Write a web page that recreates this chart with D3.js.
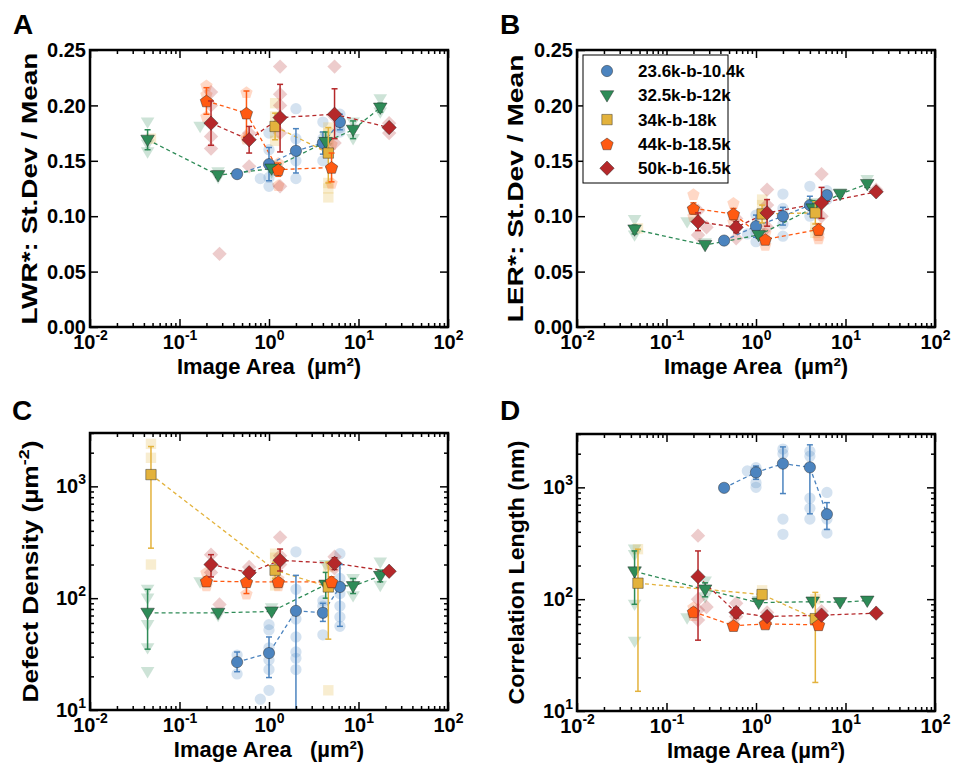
<!DOCTYPE html>
<html>
<head>
<meta charset="utf-8">
<script src="https://cdn.jsdelivr.net/npm/d3@7"></script>
<style>
  body { margin: 0; background: #fff; }
  text { font-family: "Liberation Sans", Arial, sans-serif; font-weight: bold; fill: #000; }
</style>
</head>
<body>
<div id="chart"></div>
<script>
// ---- series ----
const seriesNames = ["23.6k-b-10.4k", "32.5k-b-12k", "34k-b-18k", "44k-b-18.5k", "50k-b-16.5k"];
const seriesColors = ["#4c84bf", "#2e8b57", "#e3b23c", "#ff5a12", "#b5282a"];
const seriesShapes = ["circle", "triangleDown", "square", "pentagon", "diamond"];

// ---- A: LWR* (area, mean, errLow, errHigh) and single measurements (area, value) ----
const lwrBlue = [[0.44, 0.138, 0.137, 0.139], [1.0, 0.147, 0.132, 0.162], [2.0, 0.159, 0.139, 0.179], [4.0, 0.166, 0.156, 0.176], [6.2, 0.185, 0.178, 0.192]];
const lwrGreen = [[0.044, 0.169, 0.160, 0.178], [0.27, 0.137, 0.135, 0.139], [1.07, 0.143, 0.140, 0.146], [4.3, 0.167, 0.158, 0.176], [8.7, 0.178, 0.170, 0.186], [17.5, 0.198, 0.194, 0.202]];
const lwrYellow = [[1.17, 0.181, 0.169, 0.193], [4.6, 0.157, 0.130, 0.180]];
const lwrOrange = [[0.2, 0.204, 0.192, 0.216], [0.56, 0.193, 0.172, 0.213], [1.27, 0.142, 0.136, 0.148], [5.0, 0.144, 0.131, 0.157]];
const lwrRed = [[0.225, 0.184, 0.164, 0.204], [0.6, 0.169, 0.157, 0.181], [1.33, 0.189, 0.158, 0.219], [5.4, 0.192, 0.170, 0.215], [22, 0.180, 0.178, 0.182]];
const lwrBlueRaw = [[0.44, 0.138], [0.8, 0.134], [1.0, 0.127], [1.0, 0.135], [1.0, 0.16], [1.0, 0.175], [2.0, 0.197], [2.0, 0.17], [2.0, 0.15], [2.0, 0.134], [4.0, 0.185], [4.0, 0.17], [4.0, 0.15], [6.2, 0.192], [6.2, 0.18], [6.2, 0.176]];
const lwrGreenRaw = [[0.044, 0.185], [0.044, 0.158], [0.044, 0.165], [0.17, 0.181], [0.27, 0.14], [0.27, 0.135], [1.07, 0.146], [1.07, 0.14], [4.3, 0.172], [4.3, 0.162], [8.7, 0.185], [8.7, 0.17], [17.5, 0.206], [17.5, 0.194]];
const lwrYellowRaw = [[0.048, 0.170], [1.17, 0.202], [1.17, 0.19], [1.17, 0.175], [1.17, 0.168], [4.6, 0.18], [4.6, 0.175], [4.6, 0.165], [4.6, 0.13], [4.6, 0.125], [4.6, 0.117]];
const lwrOrangeRaw = [[0.2, 0.218], [0.2, 0.21], [0.2, 0.19], [0.56, 0.212], [0.56, 0.172], [0.56, 0.17], [1.27, 0.148], [1.27, 0.128], [5.0, 0.165], [5.0, 0.13]];
const lwrRedRaw = [[0.225, 0.212], [0.225, 0.2], [0.225, 0.172], [0.225, 0.161], [0.28, 0.066], [0.6, 0.175], [0.6, 0.145], [1.33, 0.235], [1.33, 0.21], [1.33, 0.2], [1.33, 0.175], [1.33, 0.127], [5.4, 0.235], [5.4, 0.19], [5.4, 0.166], [22, 0.184], [22, 0.175]];

// ---- B: LER* ----
const lerBlue = [[0.44, 0.078, 0.077, 0.079], [1.0, 0.091, 0.081, 0.101], [2.0, 0.100, 0.092, 0.108], [4.0, 0.110, 0.102, 0.118], [6.2, 0.119, 0.115, 0.123]];
const lerGreen = [[0.044, 0.088, 0.084, 0.092], [0.27, 0.074, 0.073, 0.075], [1.07, 0.083, 0.080, 0.086], [4.3, 0.107, 0.100, 0.114], [8.7, 0.120, 0.118, 0.122], [17.5, 0.129, 0.126, 0.132]];
const lerYellow = [[1.17, 0.102, 0.094, 0.110], [4.6, 0.103, 0.093, 0.113]];
const lerOrange = [[0.2, 0.107, 0.102, 0.112], [0.56, 0.102, 0.097, 0.107], [1.27, 0.079, 0.077, 0.081], [5.0, 0.088, 0.083, 0.093]];
const lerRed = [[0.225, 0.095, 0.087, 0.103], [0.6, 0.090, 0.085, 0.095], [1.33, 0.103, 0.091, 0.115], [5.4, 0.112, 0.098, 0.126], [22, 0.122, 0.121, 0.123]];
const lerBlueRaw = [[0.44, 0.078], [0.8, 0.084], [1.0, 0.101], [1.0, 0.085], [1.0, 0.077], [2.0, 0.12], [2.0, 0.107], [2.0, 0.093], [2.0, 0.082], [4.0, 0.127], [4.0, 0.1], [6.2, 0.123], [6.2, 0.115]];
const lerGreenRaw = [[0.044, 0.097], [0.044, 0.083], [0.17, 0.095], [0.27, 0.076], [1.07, 0.085], [4.3, 0.112], [8.7, 0.121], [17.5, 0.133]];
const lerYellowRaw = [[0.048, 0.089], [1.17, 0.115], [1.17, 0.11], [1.17, 0.095], [4.6, 0.11], [4.6, 0.09], [4.6, 0.085]];
const lerOrangeRaw = [[0.2, 0.12], [0.2, 0.1], [0.56, 0.112], [0.56, 0.095], [1.27, 0.074], [1.27, 0.085], [5.0, 0.08], [5.0, 0.083]];
const lerRedRaw = [[0.225, 0.105], [0.225, 0.083], [0.28, 0.09], [0.6, 0.098], [0.6, 0.08], [1.33, 0.124], [1.33, 0.11], [1.33, 0.09], [5.4, 0.138], [5.4, 0.1], [22, 0.124]];

// ---- C: defect density ----
const ddBlue = [[0.44, 26.8, 22, 33], [1.0, 32.3, 19.5, 45], [2.0, 77, 8, 160], [4.0, 74, 62, 90], [6.2, 126, 56, 200]];
const ddGreen = [[0.044, 74, 35, 120], [0.27, 74, 72, 76], [1.07, 76, 74, 78], [4.3, 132, 100, 170], [8.7, 128, 110, 150], [17.5, 158, 140, 178]];
const ddYellow = [[0.048, 1274, 280, 2270], [1.17, 178, 150, 210], [4.6, 126, 43, 210]];
const ddOrange = [[0.2, 142, 130, 155], [0.56, 140, 110, 165], [1.27, 140, 130, 150], [5.0, 140, 125, 155]];
const ddRed = [[0.225, 200, 155, 245], [0.6, 169, 160, 178], [1.33, 218, 175, 275], [5.4, 205, 180, 230], [22, 174, 170, 178]];
const ddBlueRaw = [[0.44, 31], [0.44, 21], [0.8, 12.5], [1.0, 58], [1.0, 52], [1.0, 36], [1.0, 28], [1.0, 23], [1.0, 15], [2.0, 260], [2.0, 120], [2.0, 65], [2.0, 45], [2.0, 33], [2.0, 29], [2.0, 23], [4.0, 95], [4.0, 85], [4.0, 47], [6.2, 250], [6.2, 150], [6.2, 110], [6.2, 85], [6.2, 68], [6.2, 56]];
const ddGreenRaw = [[0.044, 120], [0.044, 100], [0.044, 58], [0.044, 36], [0.044, 22], [0.17, 140], [0.27, 70], [1.07, 82], [4.3, 200], [8.7, 150], [8.7, 105], [17.5, 210], [17.5, 130]];
const ddYellowRaw = [[0.048, 2400], [0.048, 1800], [0.048, 200], [1.17, 250], [1.17, 230], [1.17, 160], [1.17, 130], [4.6, 190], [4.6, 15]];
const ddOrangeRaw = [[0.2, 170], [0.2, 130], [0.56, 110], [1.27, 150], [1.27, 130], [5.0, 200]];
const ddRedRaw = [[0.225, 245], [0.225, 170], [0.28, 88], [0.6, 190], [1.33, 350], [1.33, 240], [1.33, 200], [5.4, 235], [5.4, 185]];

// ---- D: correlation length ----
const clBlue = [[0.44, 990, 980, 1000], [1.0, 1360, 1180, 1550], [2.0, 1630, 880, 2300], [4.0, 1510, 580, 2400], [6.2, 575, 420, 730]];
const clGreen = [[0.044, 177, 90, 270], [0.27, 122, 105, 140], [1.07, 93, 90, 96], [4.3, 95, 93, 97], [8.7, 94, 92, 96], [17.5, 97, 95, 99]];
const clYellow = [[0.048, 139, 15, 280], [1.17, 110, 100, 120], [4.6, 67, 18, 115]];
const clOrange = [[0.2, 77, 72, 83], [0.56, 58, 56, 60], [1.27, 60, 58, 62], [5.0, 59, 57, 61]];
const clRed = [[0.225, 159, 43, 270], [0.6, 76, 68, 84], [1.33, 70, 66, 74], [5.4, 72, 69, 75], [22, 75, 74, 76]];
const clBlueRaw = [[0.8, 1400], [1.0, 1500], [1.0, 1400], [1.0, 1100], [1.0, 1000], [2.0, 2200], [2.0, 2000], [2.0, 520], [2.0, 380], [4.0, 2100], [4.0, 1900], [4.0, 800], [4.0, 650], [4.0, 520], [6.2, 900], [6.2, 520], [6.2, 390]];
const clGreenRaw = [[0.044, 280], [0.044, 250], [0.044, 90], [0.044, 42], [0.17, 68], [0.27, 145], [0.27, 105], [1.07, 97], [4.3, 96]];
const clYellowRaw = [[0.048, 280], [1.17, 120], [4.6, 100]];
const clOrangeRaw = [[0.2, 85], [0.2, 72], [0.56, 60], [1.27, 62], [5.0, 60]];
const clRedRaw = [[0.225, 370], [0.225, 100], [0.225, 80], [0.225, 65], [0.28, 85], [0.6, 92], [0.6, 70], [1.33, 76], [5.4, 78]];

const linearTicks = [0, 0.05, 0.1, 0.15, 0.2, 0.25];

const W = 957, H = 763;
const svg = d3.select("#chart").append("svg").attr("width", W).attr("height", H);

// marker paths (centred at 0,0)
const markerPath = (shape) => {
  if (shape === "circle") return d3.symbol(d3.symbolCircle, 100)();
  if (shape === "square") return "M-5.2,-5.2H5.2V5.2H-5.2Z";
  if (shape === "diamond") return "M0,-7.2L7.2,0L0,7.2L-7.2,0Z";
  if (shape === "triangleDown") return "M0,6.8L-6.8,-4.6L6.8,-4.6Z";
  const pts = d3.range(5).map((i) => {
    const a = -Math.PI / 2 + (i * 2 * Math.PI) / 5;
    return [6.5 * Math.cos(a), 6.5 * Math.sin(a) + 0.6];
  });
  return "M" + pts.map((p) => p.join(",")).join("L") + "Z";
};

const supLabel = (sel, base, exp) => {
  sel.text(null);
  sel.append("tspan").text(base);
  sel.append("tspan").attr("dy", -9).attr("font-size", 14).text(exp);
};

const panels = [
  { letter: "A", x0: 90, x1: 448, y0: 50, y1: 327, log: false,
    means: [lwrBlue, lwrGreen, lwrYellow, lwrOrange, lwrRed],
    raw: [lwrBlueRaw, lwrGreenRaw, lwrYellowRaw, lwrOrangeRaw, lwrRedRaw],
    ylabel: "LWR*: St.Dev / Mean", xlabel: "Image Area\u00a0 (µm²)", labX: 37, labLen: 272, letterX: 13, letterY: 34 },
  { letter: "B", x0: 577, x1: 935, y0: 50, y1: 327, log: false,
    means: [lerBlue, lerGreen, lerYellow, lerOrange, lerRed],
    raw: [lerBlueRaw, lerGreenRaw, lerYellowRaw, lerOrangeRaw, lerRedRaw],
    ylabel: "LER*: St.Dev / Mean", xlabel: "Image Area\u00a0 (µm²)", labX: 523, labLen: 268, letterX: 500, letterY: 34, legend: true },
  { letter: "C", x0: 90, x1: 448, y0: 433, y1: 710, log: true,
    means: [ddBlue, ddGreen, ddYellow, ddOrange, ddRed],
    raw: [ddBlueRaw, ddGreenRaw, ddYellowRaw, ddOrangeRaw, ddRedRaw],
    ylabel: null, xlabel: "Image Area \u00a0 (µm²)", labX: 38, labLen: 262, letterX: 12, letterY: 420 },
  { letter: "D", x0: 577, x1: 935, y0: 434, y1: 711, log: true,
    means: [clBlue, clGreen, clYellow, clOrange, clRed],
    raw: [clBlueRaw, clGreenRaw, clYellowRaw, clOrangeRaw, clRedRaw],
    ylabel: "Correlation Length (nm)", xlabel: "Image Area (µm²)", labX: 524, labLen: 264, letterX: 500, letterY: 420 },
];

panels.forEach((p, pi) => {
  const x = d3.scaleLog().domain([0.01, 100]).range([p.x0, p.x1]);
  const y = p.log
    ? d3.scaleLog().domain([10, 3000]).range([p.y1, p.y0])
    : d3.scaleLinear().domain([0, 0.25]).range([p.y1, p.y0]);

  const clipId = `clip${pi}`;
  svg.append("clipPath").attr("id", clipId)
    .append("rect").attr("x", p.x0).attr("y", p.y0)
    .attr("width", p.x1 - p.x0).attr("height", p.y1 - p.y0);

  const plot = svg.append("g").attr("clip-path", `url(#${clipId})`);

  // faint individual measurements
  p.raw.forEach((pts, si) => {
    plot.append("g").selectAll("path").data(pts).join("path")
      .attr("d", markerPath(seriesShapes[si]))
      .attr("transform", (d) => `translate(${x(d[0])},${y(d[1])})`)
      .attr("fill", seriesColors[si]).attr("opacity", 0.24);
  });

  // dashed lines through means
  p.means.forEach((pts, si) => {
    plot.append("path").datum(pts)
      .attr("fill", "none").attr("stroke", seriesColors[si])
      .attr("stroke-width", 1.3).attr("stroke-dasharray", "4,3")
      .attr("d", d3.line().x((d) => x(d[0])).y((d) => y(d[1])));
  });

  // error bars + mean markers
  p.means.forEach((pts, si) => {
    const eg = plot.append("g").attr("stroke", seriesColors[si]).attr("stroke-width", 1.5);
    eg.selectAll("line.v").data(pts).join("line").attr("class", "v")
      .attr("x1", (d) => x(d[0])).attr("x2", (d) => x(d[0]))
      .attr("y1", (d) => y(d[2])).attr("y2", (d) => y(d[3]));
    [2, 3].forEach((k) => {
      eg.selectAll(`line.c${k}`).data(pts).join("line").attr("class", `c${k}`)
        .attr("x1", (d) => x(d[0]) - 3).attr("x2", (d) => x(d[0]) + 3)
        .attr("y1", (d) => y(d[k])).attr("y2", (d) => y(d[k]));
    });
    plot.append("g").selectAll("path").data(pts).join("path")
      .attr("d", markerPath(seriesShapes[si]))
      .attr("transform", (d) => `translate(${x(d[0])},${y(d[1])})`)
      .attr("fill", seriesColors[si])
      .attr("stroke", "#222").attr("stroke-opacity", 0.55).attr("stroke-width", 0.8);
  });

  // axes (ticks pointing inward on all four sides)
  const xMajor = [0.01, 0.1, 1, 10, 100];
  const xMinor = x.ticks().filter((v) => !xMajor.some((m) => Math.abs(v / m - 1) < 1e-6));
  const tickStyle = (g) => {
    g.select(".domain").remove();
    g.selectAll(".tick line").attr("stroke", "#000").attr("stroke-width", 1.5);
  };

  const xb = svg.append("g").attr("transform", `translate(0,${p.y1})`)
    .call(d3.axisBottom(x).tickValues(xMajor).tickSize(-8).tickFormat(() => ""))
    .call(tickStyle);
  xb.selectAll(".tick text").attr("y", 22).attr("dy", null)
    .attr("font-size", 20).attr("text-anchor", "middle")
    .each(function (d) { supLabel(d3.select(this), "10", String(Math.round(Math.log10(d)))); });
  svg.append("g").attr("transform", `translate(0,${p.y1})`)
    .call(d3.axisBottom(x).tickValues(xMinor).tickSize(-4).tickFormat(() => "")).call(tickStyle);
  svg.append("g").attr("transform", `translate(0,${p.y0})`)
    .call(d3.axisTop(x).tickValues(xMajor).tickSize(-8).tickFormat(() => "")).call(tickStyle);
  svg.append("g").attr("transform", `translate(0,${p.y0})`)
    .call(d3.axisTop(x).tickValues(xMinor).tickSize(-4).tickFormat(() => "")).call(tickStyle);

  const yMajor = p.log ? [10, 100, 1000] : linearTicks;
  const yl = svg.append("g").attr("transform", `translate(${p.x0},0)`)
    .call(d3.axisLeft(y).tickValues(yMajor).tickSize(-8)
      .tickFormat(p.log ? () => "" : d3.format(".2f")))
    .call(tickStyle);
  yl.selectAll(".tick text").attr("x", -4).attr("font-size", 20).attr("dy", "0.33em");
  if (p.log) {
    yl.selectAll(".tick text")
      .each(function (d) { supLabel(d3.select(this), "10", String(Math.round(Math.log10(d)))); });
  }
  svg.append("g").attr("transform", `translate(${p.x1},0)`)
    .call(d3.axisRight(y).tickValues(yMajor).tickSize(-8).tickFormat(() => "")).call(tickStyle);
  if (p.log) {
    const yMinor = y.ticks().filter((v) => !yMajor.includes(v));
    svg.append("g").attr("transform", `translate(${p.x0},0)`)
      .call(d3.axisLeft(y).tickValues(yMinor).tickSize(-4).tickFormat(() => "")).call(tickStyle);
    svg.append("g").attr("transform", `translate(${p.x1},0)`)
      .call(d3.axisRight(y).tickValues(yMinor).tickSize(-4).tickFormat(() => "")).call(tickStyle);
  }

  // frame
  svg.append("rect").attr("x", p.x0).attr("y", p.y0)
    .attr("width", p.x1 - p.x0).attr("height", p.y1 - p.y0)
    .attr("fill", "none").attr("stroke", "#000").attr("stroke-width", 2.5);

  // axis labels
  svg.append("text").attr("x", (p.x0 + p.x1) / 2).attr("y", p.y1 + 47)
    .attr("text-anchor", "middle").attr("font-size", 22).text(p.xlabel);
  const ylab = svg.append("text").attr("text-anchor", "middle").attr("font-size", 22);
  if (p.ylabel) {
    ylab.text(p.ylabel);
  } else {
    ylab.append("tspan").text("Defect Density (µm");
    ylab.append("tspan").attr("dy", -9).attr("font-size", 15).text("-2");
    ylab.append("tspan").attr("dy", 9).text(")");
  }
  // the reference's vertical labels run longer than the font's natural width: stretch along the text
  const natural = ylab.node().getBBox().width;
  ylab.attr("transform",
    `translate(${p.labX},${(p.y0 + p.y1) / 2}) rotate(-90) scale(${p.labLen / natural},1)`);

  // panel letter
  svg.append("text").attr("x", p.letterX).attr("y", p.letterY)
    .attr("font-size", 28).text(p.letter);

  // legend
  if (p.legend) {
    const lg = svg.append("g");
    lg.append("rect").attr("x", 583).attr("y", 55).attr("width", 145).attr("height", 128)
      .attr("fill", "#fff").attr("stroke", "#000").attr("stroke-width", 1);
    seriesNames.forEach((name, i) => {
      const ly = 71 + i * 24.3;
      lg.append("path").attr("d", markerPath(seriesShapes[i]))
        .attr("transform", `translate(607,${ly})`)
        .attr("fill", seriesColors[i])
        .attr("stroke", "#222").attr("stroke-opacity", 0.55).attr("stroke-width", 0.8);
      lg.append("text").attr("x", 638).attr("y", ly).attr("dy", "0.35em")
        .attr("font-size", 17).text(name);
    });
  }
});
</script>
</body>
</html>
